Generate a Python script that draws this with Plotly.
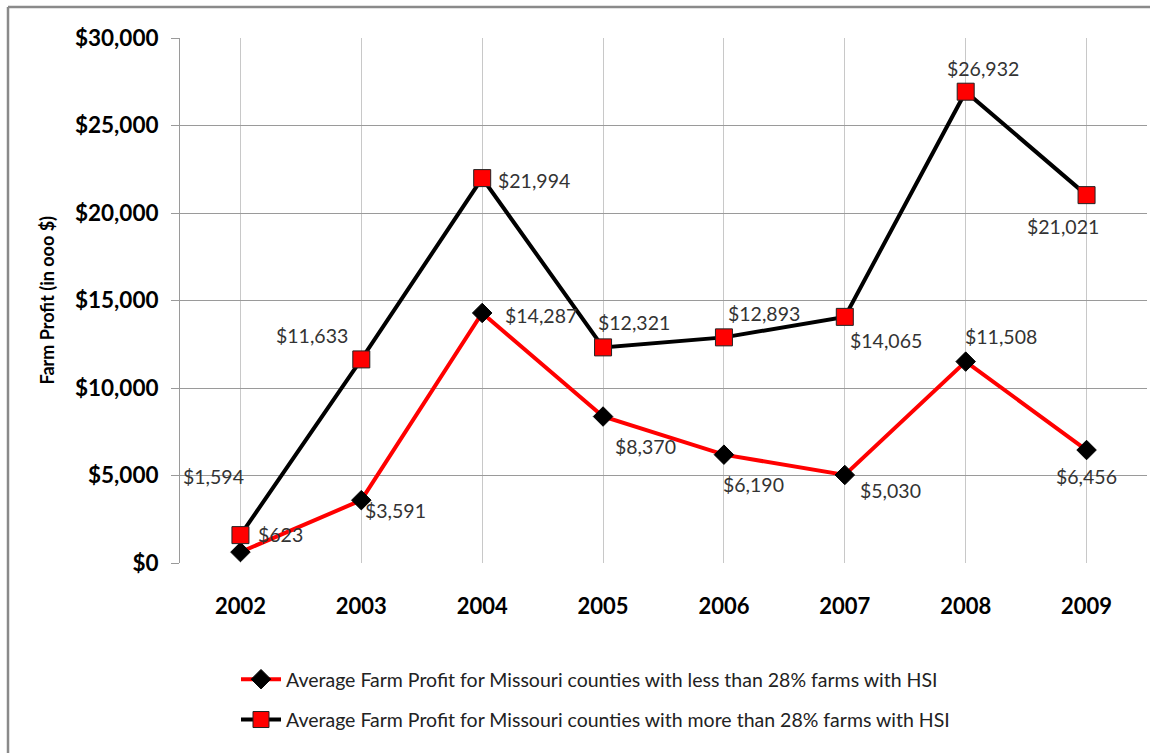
import plotly.graph_objects as go

years = ["2002", "2003", "2004", "2005", "2006", "2007", "2008", "2009"]
less_28 = [623, 3591, 14287, 8370, 6190, 5030, 11508, 6456]
more_28 = [1594, 11633, 21994, 12321, 12893, 14065, 26932, 21021]
name_less = "Average Farm Profit for Missouri counties with less than 28% farms with HSI"
name_more = "Average Farm Profit for Missouri counties with more than 28% farms with HSI"
y_ticks = [0, 5000, 10000, 15000, 20000, 25000, 30000]

# label offsets (pixels) for data labels
off_more = [(-27, -59), (-49, -24), (52, 2), (31, -25), (40, -24), (41, 24), (17, -23), (-24, 31)]
off_less = [(40, -18), (34, 10), (59, 3), (42, 30), (30, 30), (46, 16), (35, -25), (0, 26)]

FONT = "Lato"

fig = go.Figure()
fig.add_trace(go.Scatter(
    x=years, y=less_28, name=name_less, mode="lines+markers",
    line=dict(color="#ff0000", width=4),
    marker=dict(symbol="diamond", size=15, color="#000000", line=dict(color="#000000", width=1)),
    legendgroup="a",
))
fig.add_trace(go.Scatter(
    x=years, y=more_28, name=name_more, mode="lines+markers",
    line=dict(color="#000000", width=4),
    marker=dict(symbol="square", size=17, color="#ff0000", line=dict(color="#222222", width=1)),
    legendgroup="b",
))

annotations = []
for ys, offs in [(more_28, off_more), (less_28, off_less)]:
    for i, (y, (dx, dy)) in enumerate(zip(ys, offs)):
        annotations.append(dict(
            x=i, y=y, xref="x", yref="y", text=f"${y:,}", showarrow=False,
            xshift=dx, yshift=-dy, font=dict(family=FONT, size=19.5, color="#333333"),
        ))

annotations.append(dict(
    x=(46 - 180) / 967, y=0.5, xref="paper", yref="paper", xanchor="center", yanchor="middle",
    text="<b>Farm Profit (in ooo $)</b>", textangle=-90, showarrow=False,
    font=dict(family=FONT, size=18, color="#000000"),
))

line_col = "#8a8a8a"
shapes = [
    dict(type="line", xref="paper", yref="paper", x0=(8 - 180) / 967, x1=(8 - 180) / 967,
         y0=1 + 31 / 525, y1=(563 - 760) / 525, line=dict(color=line_col, width=2.5)),
    dict(type="line", xref="paper", yref="paper", x0=(8 - 180) / 967, x1=(1150 - 180) / 967,
         y0=1 + 31 / 525, y1=1 + 31 / 525, line=dict(color=line_col, width=2.5)),
]

fig.update_layout(
    width=1160, height=753,
    margin=dict(l=180, r=13, t=38, b=190, autoexpand=False),
    paper_bgcolor="white", plot_bgcolor="white",
    font=dict(family=FONT, color="#000000"),
    showlegend=True,
    legend=dict(
        x=(236 - 180) / 967, y=-(660 - 563) / 525,
        xanchor="left", yanchor="top", font=dict(family=FONT, size=19.5, color="#222222"),
        tracegroupgap=12, bgcolor="rgba(0,0,0,0)", itemwidth=40,
    ),
    xaxis=dict(
        type="category", range=[-0.5, 7.5], showgrid=True, gridcolor="#c8c8c8", gridwidth=1,
        showline=False, ticks="", tickfont=dict(family=FONT, size=22, color="#000000", weight="bold"),
        ticklabelstandoff=28, zeroline=False, tickangle=0,
    ),
    yaxis=dict(
        range=[0, 30000], tickvals=y_ticks, ticktext=[f"${v:,}" for v in y_ticks],
        showgrid=True, gridcolor="#9a9a9a", gridwidth=1,
        showline=True, linecolor="#9a9a9a", linewidth=1,
        ticks="outside", ticklen=8, tickcolor="#9a9a9a",
        tickfont=dict(family=FONT, size=22.5, color="#000000", weight="bold"),
        ticklabelstandoff=8, zeroline=False,
    ),
    annotations=annotations,
    shapes=shapes,
)

fig.write_html("out.html")
